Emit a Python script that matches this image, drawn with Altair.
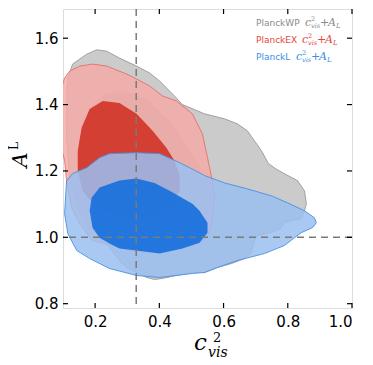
import altair as alt
import pandas as pd

# ---------------- data ----------------
wp95_x = [0.111, 0.112, 0.115, 0.130, 0.174, 0.205, 0.236, 0.276, 0.329, 0.370, 0.401, 0.441, 0.472, 0.541,
          0.603, 0.643, 0.674, 0.696, 0.718, 0.740, 0.765, 0.789, 0.830, 0.852, 0.858, 0.852, 0.842, 0.811,
          0.789, 0.780, 0.765, 0.705, 0.696, 0.687, 0.665, 0.625, 0.581, 0.541, 0.503, 0.453, 0.410, 0.385,
          0.360, 0.329, 0.298, 0.276, 0.245, 0.205, 0.177, 0.152, 0.121, 0.111]
wp95_y = [1.300, 1.440, 1.480, 1.522, 1.552, 1.565, 1.561, 1.540, 1.516, 1.495, 1.471, 1.432, 1.400, 1.372,
          1.357, 1.342, 1.321, 1.291, 1.261, 1.222, 1.205, 1.192, 1.171, 1.140, 1.101, 1.080, 1.056, 1.050,
          1.044, 1.029, 1.020, 1.005, 0.990, 0.954, 0.936, 0.921, 0.909, 0.894, 0.894, 0.885, 0.876, 0.873,
          0.879, 0.894, 0.909, 0.930, 0.969, 1.005, 1.030, 1.071, 1.171, 1.300]

wp68_x = [0.158, 0.165, 0.190, 0.230, 0.298, 0.370, 0.447, 0.525, 0.545, 0.535, 0.490, 0.400, 0.310, 0.230,
          0.183, 0.162, 0.158]
wp68_y = [1.250, 1.340, 1.400, 1.430, 1.441, 1.411, 1.336, 1.216, 1.140, 1.070, 1.020, 0.990, 0.995, 1.026,
          1.080, 1.160, 1.250]

ex95_x = [0.090, 0.092, 0.105, 0.121, 0.152, 0.192, 0.236, 0.298, 0.329, 0.370, 0.410, 0.453, 0.503, 0.534,
          0.550, 0.565, 0.572, 0.565, 0.553, 0.530, 0.503, 0.432, 0.360, 0.298, 0.245, 0.192, 0.152, 0.127,
          0.111, 0.105, 0.095, 0.090]
ex95_y = [1.300, 1.440, 1.480, 1.501, 1.516, 1.522, 1.516, 1.492, 1.477, 1.456, 1.426, 1.411, 1.372, 1.312,
          1.240, 1.170, 1.131, 1.050, 1.010, 0.985, 0.975, 0.960, 0.955, 0.962, 0.978, 0.990, 1.041, 1.089,
          1.171, 1.231, 1.270, 1.300]

ex68_x = [0.224, 0.276, 0.329, 0.379, 0.422, 0.447, 0.463, 0.463, 0.438, 0.385, 0.329, 0.261, 0.198, 0.161,
          0.146, 0.146, 0.158, 0.183, 0.224]
ex68_y = [1.411, 1.405, 1.372, 1.321, 1.270, 1.231, 1.186, 1.140, 1.095, 1.065, 1.056, 1.068, 1.095, 1.140,
          1.201, 1.261, 1.330, 1.387, 1.411]

l95_x = [0.111, 0.130, 0.174, 0.214, 0.245, 0.329, 0.401, 0.463, 0.494, 0.541, 0.603, 0.674, 0.749, 0.799,
         0.852, 0.883, 0.889, 0.877, 0.842, 0.821, 0.789, 0.727, 0.643, 0.581, 0.541, 0.503, 0.401, 0.329,
         0.245, 0.183, 0.143, 0.115, 0.105, 0.111]
l95_y = [1.170, 1.192, 1.210, 1.240, 1.252, 1.255, 1.252, 1.225, 1.210, 1.186, 1.164, 1.146, 1.125, 1.104,
         1.080, 1.059, 1.044, 1.029, 1.014, 0.999, 0.975, 0.951, 0.930, 0.909, 0.894, 0.891, 0.879, 0.885,
         0.906, 0.936, 0.960, 1.011, 1.071, 1.170]

l68_x = [0.329, 0.276, 0.214, 0.189, 0.183, 0.192, 0.214, 0.245, 0.276, 0.329, 0.401, 0.472, 0.525, 0.550,
         0.550, 0.525, 0.503, 0.432, 0.385, 0.329]
l68_y = [1.177, 1.171, 1.150, 1.119, 1.080, 1.029, 0.999, 0.981, 0.966, 0.960, 0.951, 0.966, 0.984, 1.014,
         1.044, 1.080, 1.101, 1.140, 1.164, 1.177]

x_ticks = [0.2, 0.4, 0.6, 0.8, 1.0]
y_ticks = [0.8, 1.0, 1.2, 1.4, 1.6]
x_domain = [0.1, 1.0]
y_domain = [0.787, 1.688]
c_vis_ref = [0.328]
a_l_ref = [1.0]

legend_names = ["PlanckWP", "PlanckEX", "PlanckL"]
legend_colors = ["#8a8a8a", "#e8453c", "#3a8ee8"]

W, H = 289, 299
xs = alt.Scale(domain=x_domain, nice=False, zero=False)
ys = alt.Scale(domain=y_domain, nice=False, zero=False)
x_axis = alt.Axis(values=x_ticks, format=".1f", ticks=False, domain=False, grid=False, title=None,
                  labelPadding=6, labelFontSize=15, labelFont="DejaVu Sans", labelColor="black")
y_axis = alt.Axis(values=y_ticks, format=".1f", ticks=False, domain=False, grid=False, title=None,
                  labelPadding=5, labelFontSize=15, labelFont="DejaVu Sans", labelColor="black")


def X(field="x"):
    return alt.X(f"{field}:Q", scale=xs, axis=x_axis, title=None)


def Y(field="y"):
    return alt.Y(f"{field}:Q", scale=ys, axis=y_axis, title=None)


def contour(xv, yv, fill, opacity, stroke=None, sw=0.0):
    df = pd.DataFrame({"x": xv, "y": yv, "i": list(range(len(xv)))})
    kw = dict(fill=fill, fillOpacity=opacity, clip=True, interpolate="linear")
    if stroke:
        kw.update(stroke=stroke, strokeWidth=sw, strokeOpacity=0.9)
    else:
        kw.update(strokeOpacity=0, strokeWidth=0)
    return alt.Chart(df).mark_line(**kw).encode(x=X(), y=Y(), order=alt.Order("i:Q"))


layers = [
    contour(wp95_x, wp95_y, "#cbcbcb", 1.0, "#999999", 1.0),
    contour(wp68_x, wp68_y, "#ababab", 1.0),
    contour(ex95_x, ex95_y, "#f4aba7", 0.85, "#e5706a", 1.0),
    contour(ex68_x, ex68_y, "#cf2b1d", 0.85),
    contour(l95_x, l95_y, "#9abff1", 0.85, "#4a90e2", 1.0),
    contour(l68_x, l68_y, "#1870dc", 0.92),
]

vl = alt.Chart(pd.DataFrame({"x": c_vis_ref})).mark_rule(
    color="#7a7a7a", strokeDash=[7, 5], strokeWidth=1.5).encode(x=X())
hl = alt.Chart(pd.DataFrame({"y": a_l_ref})).mark_rule(
    color="#7a7a7a", strokeDash=[7, 5], strokeWidth=1.5).encode(y=Y())
layers += [vl, hl]

# inward ticks on all four sides
xt = pd.DataFrame({"x": x_ticks})
yt = pd.DataFrame({"y": y_ticks})
tick_style = dict(color="black", strokeWidth=1.2)
layers += [
    alt.Chart(xt).mark_rule(**tick_style).encode(x=X(), y=alt.value(H), y2=alt.value(H - 5)),
    alt.Chart(xt).mark_rule(**tick_style).encode(x=X(), y=alt.value(0), y2=alt.value(5)),
    alt.Chart(yt).mark_rule(**tick_style).encode(y=Y(), x=alt.value(0), x2=alt.value(5)),
    alt.Chart(yt).mark_rule(**tick_style).encode(y=Y(), x=alt.value(W - 5), x2=alt.value(W)),
]


def txt(s, x, y, size, color="black", font="DejaVu Serif", style="italic", angle=0, align="left",
        baseline="alphabetic"):
    return alt.Chart(pd.DataFrame({"t": [s]})).mark_text(
        font=font, fontSize=size, fontStyle=style, color=color, angle=angle, align=align,
        baseline=baseline).encode(text="t:N", x=alt.value(x), y=alt.value(y))


# axis titles
layers += [
    txt("c", 131, 341, 23),
    txt("2", 150, 333, 13, style="normal"),
    txt("vis", 145, 348, 14),
    txt("A", -36, 151, 21, angle=270, align="center"),
    txt("L", -45, 137, 12, angle=270, align="center", style="normal"),
]

# legend
leg_y = [17, 34, 51]
math_x0 = [242, 239, 233]
for name, col, yy, x0 in zip(legend_names, legend_colors, leg_y, math_x0):
    layers += [
        txt(name, 193, yy, 9, color=col, font="DejaVu Sans", style="normal"),
        txt("c", x0, yy, 11, color=col),
        txt("2", x0 + 6, yy - 5, 6.5, color=col, style="normal"),
        txt("vis", x0 + 6, yy + 2, 6.5, color=col),
        txt("+", x0 + 15, yy, 11, color=col, style="normal"),
        txt("A", x0 + 23, yy, 11, color=col),
        txt("L", x0 + 31, yy + 2, 7, color=col),
    ]

chart = alt.layer(*layers).properties(
    width=W, height=H,
    autosize=alt.AutoSizeParams(type="none"),
    padding={"left": 55, "top": 1, "right": 13, "bottom": 56},
).configure_view(stroke="black", strokeWidth=2).configure(background="white")

chart.save("out.html", embed_options={"renderer": "svg", "actions": False})
